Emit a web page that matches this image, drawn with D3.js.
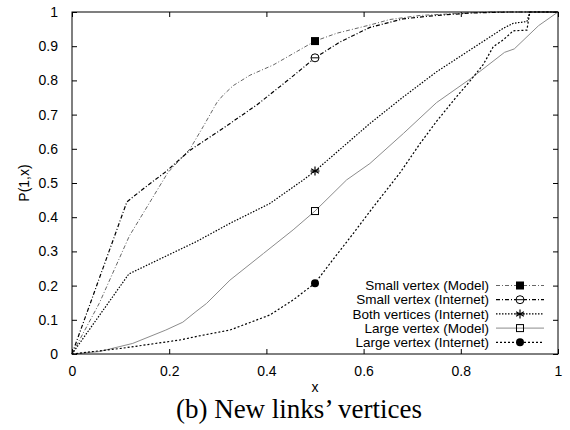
<!DOCTYPE html>
<html>
<head>
<meta charset="utf-8">
<script src="https://cdn.jsdelivr.net/npm/d3@7"></script>
<style>
  body { margin: 0; background: #fff; }
  svg { display: block; }
</style>
</head>
<body>
<svg width="570" height="430"></svg>
<script>
// values, [x, P(1,x)]
const smallModel = [[0,0],[0.056,0.148],[0.118,0.345],[0.197,0.53],[0.243,0.6],[0.27,0.665],[0.298,0.735],[0.311,0.757],[0.332,0.785],[0.366,0.815],[0.414,0.845],[0.462,0.884],[0.5,0.915],[0.545,0.938],[0.613,0.962],[0.654,0.978],[0.716,0.99],[0.798,0.996],[0.86,1],[1,1]];
const smallInternet = [[0,0],[0.113,0.445],[0.152,0.489],[0.193,0.533],[0.243,0.596],[0.311,0.66],[0.38,0.728],[0.449,0.806],[0.5,0.866],[0.551,0.912],[0.613,0.955],[0.681,0.98],[0.75,0.99],[0.82,0.997],[0.9,1],[1,1]];
const bothInternet = [[0,0],[0.117,0.234],[0.193,0.286],[0.255,0.328],[0.325,0.382],[0.407,0.44],[0.476,0.509],[0.5,0.535],[0.613,0.674],[0.682,0.752],[0.75,0.825],[0.819,0.889],[0.887,0.952],[0.908,0.967],[0.936,0.972],[0.942,1],[1,1]];
const largeModel = [[0,0],[0.056,0.007],[0.125,0.031],[0.193,0.07],[0.228,0.093],[0.255,0.124],[0.277,0.148],[0.325,0.216],[0.394,0.294],[0.455,0.363],[0.5,0.418],[0.565,0.509],[0.613,0.557],[0.682,0.645],[0.75,0.735],[0.82,0.805],[0.89,0.882],[0.91,0.892],[0.96,0.96],[1,1]];
const largeInternet = [[0,0],[0.104,0.017],[0.222,0.041],[0.255,0.051],[0.325,0.07],[0.407,0.114],[0.455,0.158],[0.5,0.207],[0.531,0.265],[0.579,0.353],[0.62,0.43],[0.675,0.53],[0.716,0.615],[0.75,0.68],[0.79,0.75],[0.82,0.8],[0.846,0.846],[0.867,0.899],[0.887,0.918],[0.908,0.945],[0.936,0.947],[0.942,1],[1,1]];

const seriesNames = ["Small vertex (Model)", "Small vertex (Internet)", "Both vertices (Internet)", "Large vertex (Model)", "Large vertex (Internet)"];
const xTicks = [0, 0.2, 0.4, 0.6, 0.8, 1];
const yTicks = [0, 0.1, 0.2, 0.3, 0.4, 0.5, 0.6, 0.7, 0.8, 0.9, 1];
const markAt = 0.5; // gnuplot put one point per curve here

const series = [
  {name: seriesNames[0], data: smallModel, stroke: "#666", width: 1, dash: "4,2,1,2", mark: "fsquare"},
  {name: seriesNames[1], data: smallInternet, stroke: "#000", width: 1.2, dash: "4,2,1,2", mark: "ocircle"},
  {name: seriesNames[2], data: bothInternet, stroke: "#000", width: 1.2, dash: "1.5,1.5", mark: "star"},
  {name: seriesNames[3], data: largeModel, stroke: "#8c8c8c", width: 1, dash: null, mark: "osquare"},
  {name: seriesNames[4], data: largeInternet, stroke: "#000", width: 1.2, dash: "2,2", mark: "fcircle"}
];

const svg = d3.select("svg");
const margin = {top: 12, right: 12, bottom: 76, left: 72};
const width = 570 - margin.left - margin.right;
const height = 430 - margin.top - margin.bottom;
const font = "'Liberation Sans', Arial, sans-serif";

const x = d3.scaleLinear().domain([0, 1]).range([0, width]);
const y = d3.scaleLinear().domain([0, 1]).range([height, 0]);

const g = svg.append("g").attr("transform", `translate(${margin.left},${margin.top})`);

// ticks on all four sides, pointing inward
const tl = 5;
function styleAxis(sel) {
  sel.select(".domain").remove();
  sel.selectAll("line").attr("stroke", "#000");
  sel.selectAll("text").attr("font-family", font).attr("font-size", 14).attr("fill", "#000");
}
g.append("g").attr("transform", `translate(0,${height})`)
  .call(d3.axisBottom(x).tickValues(xTicks).tickFormat(d3.format("~g")).tickSizeInner(-tl).tickSizeOuter(0).tickPadding(12))
  .call(styleAxis);
g.append("g")
  .call(d3.axisTop(x).tickValues(xTicks).tickFormat("").tickSizeInner(-tl).tickSizeOuter(0))
  .call(styleAxis);
g.append("g")
  .call(d3.axisLeft(y).tickValues(yTicks).tickFormat(d3.format("~g")).tickSizeInner(-tl).tickSizeOuter(0).tickPadding(14))
  .call(styleAxis);
g.append("g").attr("transform", `translate(${width},0)`)
  .call(d3.axisRight(y).tickValues(yTicks).tickFormat("").tickSizeInner(-tl).tickSizeOuter(0))
  .call(styleAxis);

const line = d3.line().x(d => x(d[0])).y(d => y(d[1]));

function drawMark(sel, kind, cx, cy) {
  const m = sel.append("g").attr("transform", `translate(${cx},${cy})`);
  if (kind === "fsquare") m.append("rect").attr("x", -4).attr("y", -4).attr("width", 8).attr("height", 8).attr("fill", "#000");
  if (kind === "osquare") m.append("rect").attr("x", -3.5).attr("y", -3.5).attr("width", 7).attr("height", 7).attr("fill", "none").attr("stroke", "#000");
  if (kind === "fcircle") m.append("circle").attr("r", 4).attr("fill", "#000");
  if (kind === "ocircle") {
    m.append("circle").attr("r", 4).attr("fill", "#fff").attr("stroke", "#000");
    m.append("line").attr("x1", -4).attr("x2", 4).attr("stroke", "#000");
  }
  if (kind === "star") {
    [0, 60, 120].forEach(a => {
      const r = Math.PI * a / 180;
      m.append("line").attr("x1", -4.5 * Math.sin(r)).attr("y1", -4.5 * Math.cos(r))
        .attr("x2", 4.5 * Math.sin(r)).attr("y2", 4.5 * Math.cos(r)).attr("stroke", "#000").attr("stroke-width", 1.2);
    });
    m.append("line").attr("x1", -4.5).attr("x2", 4.5).attr("stroke", "#000").attr("stroke-width", 1.2);
  }
}

series.forEach(s => {
  g.append("path")
    .datum(s.data)
    .attr("d", line)
    .attr("fill", "none")
    .attr("stroke", s.stroke)
    .attr("stroke-width", s.width)
    .attr("stroke-dasharray", s.dash);
});
series.forEach(s => {
  const p = s.data.find(d => d[0] === markAt);
  drawMark(g, s.mark, x(p[0]), y(p[1]));
});

// frame
g.append("rect").attr("width", width).attr("height", height)
  .attr("fill", "none").attr("stroke", "#000");

// legend
const legend = g.append("g").attr("transform", `translate(${417 - 72},${285.5 - 12})`);
series.forEach((s, i) => {
  const row = legend.append("g").attr("transform", `translate(0,${i * 14.2})`);
  row.append("text")
    .attr("x", 72).attr("dy", "0.35em")
    .attr("text-anchor", "end")
    .attr("font-family", font).attr("font-size", 13.5)
    .text(s.name);
  row.append("line")
    .attr("x1", 79).attr("x2", 127)
    .attr("stroke", s.stroke).attr("stroke-width", s.width)
    .attr("stroke-dasharray", s.dash);
  drawMark(row, s.mark, 103, 0);
});

// axis titles
svg.append("text")
  .attr("x", margin.left + x(0.5)).attr("y", 392)
  .attr("text-anchor", "middle")
  .attr("font-family", font).attr("font-size", 14)
  .text("x");
svg.append("text")
  .attr("transform", "translate(29,183) rotate(-90)")
  .attr("text-anchor", "middle")
  .attr("font-family", font).attr("font-size", 14)
  .text("P(1,x)");

// caption under the plot
svg.append("text")
  .attr("x", 299).attr("y", 418)
  .attr("text-anchor", "middle")
  .attr("font-family", "'Liberation Serif', 'Times New Roman', serif").attr("font-size", 27)
  .text("(b) New links’ vertices");
</script>
</body>
</html>
